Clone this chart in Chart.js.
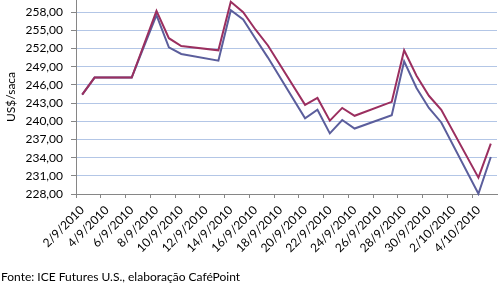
<!DOCTYPE html>
<html lang="pt">
<head>
    <meta charset="UTF-8">
    <title>Café arábica - US$/saca</title>
    <style>
        * {
            margin: 0;
            padding: 0;
            box-sizing: border-box;
        }

        body {
            background: #fff;
            width: 499px;
            height: 285px;
            overflow: hidden;
            font-family: 'Lato', sans-serif;
        }

        .wrap {
            position: relative;
            width: 499px;
            height: 285px;
        }

        .source {
            position: absolute;
            left: 1px;
            top: 270px;
            font-size: 12px;
            line-height: 14px;
            color: #000;
        }
    </style>
    <script src="https://cdn.jsdelivr.net/npm/chart.js"></script>
</head>
<body>
    <div class="wrap">
        <canvas id="chart" width="499" height="285"></canvas>
        <div class="source">Fonte: ICE Futures U.S., elaboração CaféPoint</div>
    </div>

    <script>
        // every calendar day on the axis (one slot per day)
        const days = [
            '2/9/2010', '3/9/2010', '4/9/2010', '5/9/2010', '6/9/2010', '7/9/2010',
            '8/9/2010', '9/9/2010', '10/9/2010', '11/9/2010', '12/9/2010', '13/9/2010',
            '14/9/2010', '15/9/2010', '16/9/2010', '17/9/2010', '18/9/2010', '19/9/2010',
            '20/9/2010', '21/9/2010', '22/9/2010', '23/9/2010', '24/9/2010', '25/9/2010',
            '26/9/2010', '27/9/2010', '28/9/2010', '29/9/2010', '30/9/2010', '1/10/2010',
            '2/10/2010', '3/10/2010', '4/10/2010', '5/10/2010'
        ];

        // days with a quote
        const tradeDays = [
            '2/9/2010', '3/9/2010', '6/9/2010', '7/9/2010', '8/9/2010', '9/9/2010',
            '10/9/2010', '13/9/2010', '14/9/2010', '15/9/2010', '16/9/2010', '17/9/2010',
            '20/9/2010', '21/9/2010', '22/9/2010', '23/9/2010', '24/9/2010', '27/9/2010',
            '28/9/2010', '29/9/2010', '30/9/2010', '1/10/2010', '4/10/2010', '5/10/2010'
        ];

        const redSeries = [
            244.4, 247.2, 247.2, 252.7, 258.2, 253.7,
            252.4, 251.7, 259.7, 258.0, 255.1, 252.5,
            242.7, 243.85, 240.1, 242.2, 240.9, 243.2,
            251.7, 247.5, 244.2, 241.9, 230.7, 236.3
        ];

        const blueSeries = [
            244.4, 247.2, 247.2, 252.4, 257.5, 252.2,
            251.1, 250.0, 258.3, 256.8, 253.6, 250.5,
            240.5, 241.9, 238.0, 240.2, 238.8, 241.0,
            249.9, 245.5, 242.2, 239.8, 228.05, 234.1
        ];

        const yTicks = [228, 231, 234, 237, 240, 243, 246, 249, 252, 255, 258];

        const axisGray = '#868686';

        function toSlots(values) {
            return days.map(d => {
                const i = tradeDays.indexOf(d);
                return i >= 0 ? values[i] : null;
            });
        }

        const ctx = document.getElementById('chart').getContext('2d');

        new Chart(ctx, {
            type: 'line',
            data: {
                labels: days,
                datasets: [{
                    label: 'Série 1',
                    data: toSlots(redSeries),
                    borderColor: '#9b2f5f',
                    borderWidth: 2,
                    spanGaps: true,
                    tension: 0,
                    clip: false
                }, {
                    label: 'Série 2',
                    data: toSlots(blueSeries),
                    borderColor: '#5b5e9c',
                    borderWidth: 2,
                    spanGaps: true,
                    tension: 0,
                    clip: false
                }]
            },
            options: {
                responsive: false,
                animation: false,
                layout: {
                    padding: { left: 0, right: 2, top: 0, bottom: 0 }
                },
                elements: {
                    point: { radius: 0, hoverRadius: 0 }
                },
                plugins: {
                    legend: { display: false },
                    tooltip: { enabled: false }
                },
                scales: {
                    x: {
                        type: 'category',
                        offset: true,
                        border: { display: true, color: axisGray, width: 1 },
                        grid: {
                            offset: true,
                            drawOnChartArea: false,
                            drawTicks: true,
                            tickLength: 4,
                            color: c => c.index % 2 === 0 ? axisGray : 'rgba(0,0,0,0)',
                            tickColor: c => c.index % 2 === 0 ? axisGray : 'rgba(0,0,0,0)'
                        },
                        ticks: {
                            autoSkip: false,
                            minRotation: 45,
                            maxRotation: 45,
                            padding: 5,
                            color: '#000',
                            font: { family: 'Lato', size: 12 },
                            callback: (v, i) => i % 2 === 0 ? days[i] : ''
                        },
                        afterFit: scale => {
                            scale.height = 91;
                            scale.paddingLeft = 0;
                            scale.paddingRight = 0;
                        }
                    },
                    y: {
                        min: 228,
                        max: 260,
                        border: { display: true, color: axisGray, width: 1 },
                        grid: {
                            color: '#b3c6e6',
                            tickColor: axisGray,
                            drawTicks: true,
                            tickLength: 5
                        },
                        ticks: {
                            padding: 8,
                            color: '#000',
                            font: { family: 'Lato', size: 12 },
                            callback: v => v.toFixed(2).replace('.', ',')
                        },
                        afterBuildTicks: scale => {
                            scale.ticks = yTicks.map(v => ({ value: v }));
                        },
                        title: {
                            display: true,
                            text: 'US$/saca',
                            color: '#000',
                            font: { family: 'Lato', size: 12 },
                            padding: { top: 4, bottom: 4 }
                        },
                        afterFit: scale => {
                            scale.width = 76;
                            scale.paddingTop = 0;
                            scale.paddingBottom = 0;
                        }
                    }
                }
            }
        });
    </script>
</body>
</html>
